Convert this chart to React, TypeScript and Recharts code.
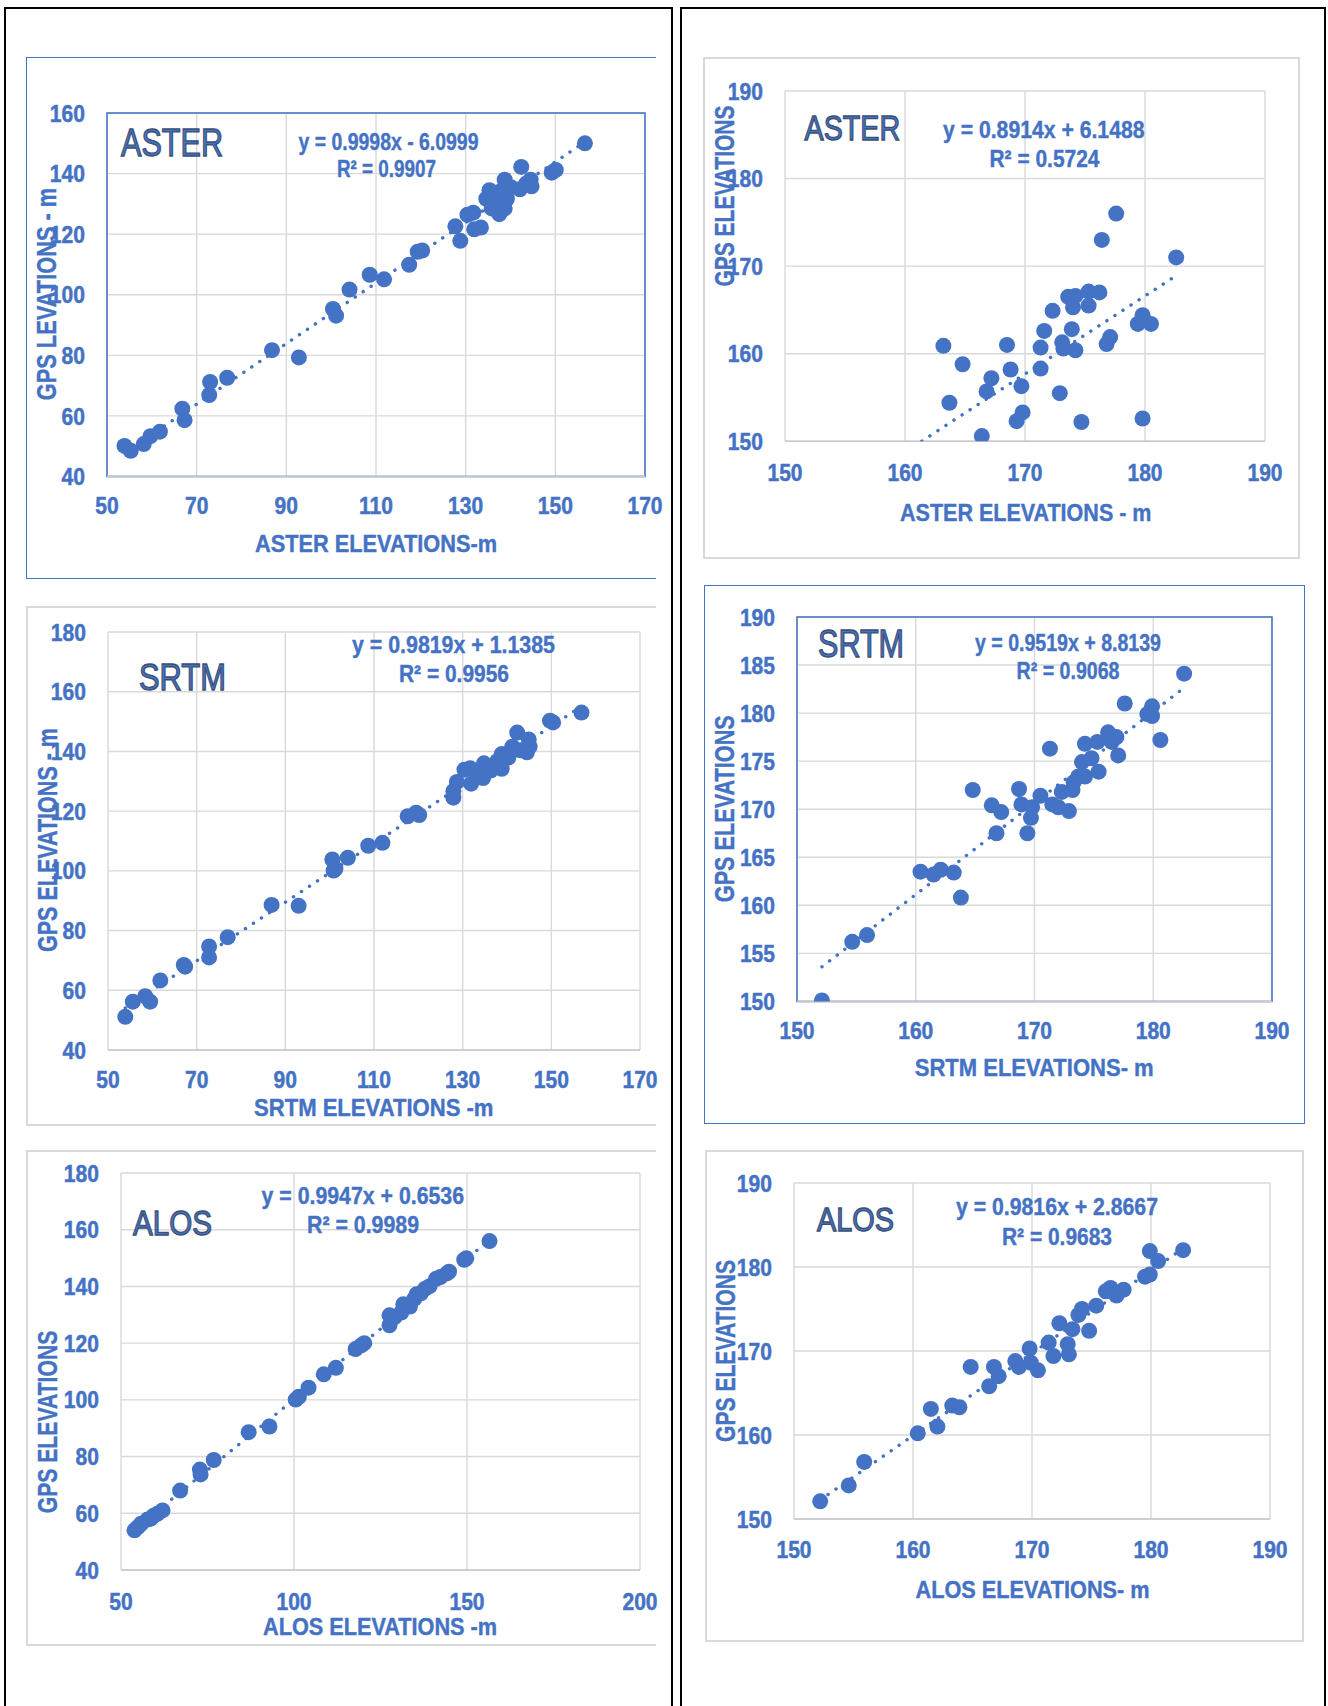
import React from 'react';
import { ScatterChart, Scatter, XAxis, YAxis, CartesianGrid, ReferenceArea } from 'recharts';

const BLUE = '#4472C4';
const GRID = '#d9d9d9';
const FONT = '"Liberation Sans", Arial, Helvetica, sans-serif';

type P = [number, number];

// ---------- data (x = DEM elevation, y = GPS elevation) ----------
const asterLeftPoints: P[] = [
  [53.9, 50.1], [55.3, 48.5], [58.2, 50.7], [59.7, 53.3], [61.8, 54.8], [66.8, 62.4], [67.3, 58.6],
  [72.8, 66.9], [73.0, 71.2], [76.8, 72.6], [86.8, 81.7], [92.8, 79.3], [100.4, 95.3], [101.1, 93.1],
  [104.1, 101.7], [108.6, 106.6], [111.8, 105.1], [117.4, 109.9], [119.3, 114.2], [120.3, 114.6],
  [127.7, 122.6], [128.8, 117.8], [130.4, 126.4], [131.7, 127.1], [131.9, 121.6], [133.4, 122.2],
  [134.6, 131.7], [135.3, 134.5], [135.8, 128.5], [137.5, 126.6], [138.7, 128.5], [136.7, 132.9],
  [138.7, 138.0], [139.2, 131.7], [140.1, 135.5], [142.4, 142.2], [142.1, 134.8], [143.5, 136.7],
  [144.5, 138.0], [144.7, 135.8], [149.2, 140.3], [150.1, 141.2], [156.6, 150.0], [136.3, 130.4],
  [137.8, 134.2],
];
const srtmLeftPoints: P[] = [
  [53.9, 51.1], [55.6, 56.2], [58.4, 58.0], [59.5, 56.2], [61.8, 63.3], [67.1, 68.5], [67.4, 67.9],
  [72.8, 74.7], [72.8, 71.0], [77.0, 77.8], [86.9, 88.6], [93.0, 88.3], [100.6, 103.8], [100.9, 100.1],
  [101.3, 100.7], [104.1, 104.4], [108.7, 108.4], [111.9, 109.4], [117.6, 118.3], [119.5, 119.5],
  [120.2, 118.7], [127.9, 126.7], [127.9, 124.5], [128.7, 129.8], [130.4, 133.9], [131.7, 134.4],
  [131.9, 129.2], [133.8, 132.9], [134.8, 136.0], [134.6, 131.1], [136.3, 133.6], [137.8, 136.7],
  [138.8, 134.2], [138.8, 139.1], [140.3, 137.9], [141.2, 141.6], [142.3, 146.3], [143.0, 140.4],
  [144.5, 139.7], [144.9, 144.0], [145.1, 141.6], [149.7, 150.3], [150.4, 149.7], [156.8, 153.0],
];
const alosLeftPoints: P[] = [
  [53.9, 54.0], [54.8, 55.0], [55.8, 56.3], [57.7, 57.8], [58.6, 58.1], [59.4, 59.1], [60.5, 59.8],
  [62.0, 61.0], [67.1, 68.0], [72.8, 75.4], [73.0, 73.7], [76.8, 78.8], [86.9, 88.6], [92.9, 90.6],
  [100.5, 100.1], [101.4, 101.1], [104.2, 104.3], [108.6, 109.0], [112.1, 111.3], [117.8, 117.9],
  [119.4, 119.2], [120.3, 120.0], [127.6, 126.3], [127.6, 129.8], [129.1, 129.2], [131.0, 130.8],
  [131.6, 133.7], [133.5, 132.9], [134.8, 135.7], [135.4, 137.2], [136.7, 137.6], [137.9, 139.2],
  [139.2, 140.1], [141.1, 142.7], [142.3, 143.3], [144.2, 144.6], [144.8, 145.2], [149.2, 149.4],
  [149.8, 149.9], [156.5, 156.0],
];
const asterRightPoints: P[] = [
  [163.2, 160.9], [163.7, 154.4], [164.8, 158.8], [166.4, 150.6], [166.8, 155.7], [167.2, 157.2],
  [168.5, 161.0], [168.8, 158.2], [169.3, 152.3], [169.7, 156.3], [169.8, 153.3], [171.3, 158.3],
  [171.3, 160.7], [171.6, 162.6], [172.3, 164.9], [172.9, 155.5], [173.1, 161.3], [173.2, 160.6],
  [173.6, 166.5], [174.0, 165.3], [173.9, 162.8], [174.2, 166.6], [174.2, 160.4], [174.7, 152.2],
  [175.3, 167.1], [175.3, 165.5], [176.2, 167.0], [176.4, 173.0], [176.8, 161.1], [177.1, 161.9],
  [177.6, 176.0], [179.4, 163.4], [179.8, 152.6], [179.8, 164.4], [180.5, 163.4], [182.6, 171.0],
];
const srtmRightPoints: P[] = [
  [152.1, 150.1], [154.65, 156.2], [155.9, 156.9], [160.4, 163.5], [161.5, 163.2], [162.1, 163.7],
  [163.2, 163.4], [163.8, 160.8], [164.8, 172.0], [166.4, 170.4], [166.8, 167.5], [167.2, 169.7],
  [168.7, 172.1], [168.9, 170.5], [169.4, 167.5], [169.7, 169.1], [169.8, 170.2], [170.5, 171.4],
  [171.3, 176.3], [171.5, 170.5], [172.0, 170.2], [172.3, 171.8], [172.9, 169.8], [173.2, 172.0],
  [173.3, 172.8], [173.7, 173.4], [174.0, 174.9], [174.25, 173.4], [174.25, 176.8], [174.8, 175.3],
  [175.4, 173.9], [175.3, 177.0], [176.2, 178.0], [176.5, 177.0], [176.9, 177.5], [177.05, 175.6],
  [177.6, 181.0], [179.5, 179.9], [179.9, 180.7], [179.9, 179.7], [180.6, 177.2], [182.6, 184.1],
];
const alosRightPoints: P[] = [
  [152.2, 152.1], [154.6, 154.0], [155.9, 156.8], [160.4, 160.2], [161.5, 163.1], [162.05, 161.0],
  [163.3, 163.5], [163.9, 163.3], [164.85, 168.1], [166.4, 165.8], [166.8, 168.1], [167.2, 167.0],
  [168.6, 168.8], [168.9, 168.1], [169.8, 170.3], [169.9, 168.6], [170.5, 167.7], [171.4, 171.0],
  [171.8, 169.4], [172.3, 173.3], [173.0, 170.8], [173.1, 169.6], [173.4, 172.6], [173.9, 174.3],
  [174.2, 175.0], [174.8, 172.4], [175.4, 175.4], [176.2, 177.1], [176.6, 177.5], [177.1, 176.6],
  [177.7, 177.3], [179.5, 178.85], [179.9, 179.1], [179.9, 181.9], [180.6, 180.7], [182.7, 182.0],
];

// trendline coefficients (from the printed equations) and visible x-extent
const trendAsterLeft = [0.9998, -6.0999];
const trendSrtmLeft = [0.9819, 1.1385];
const trendAlosLeft = [0.9947, 0.6536];
const trendAsterRight = [0.8914, 6.1488];
const trendSrtmRight = [0.9519, 8.8139];
const trendAlosRight = [0.9816, 2.8667];
const trendRangeAsterLeft = [53.9, 156.6];
const trendRangeSrtmLeft = [53.9, 156.8];
const trendRangeAlosLeft = [53.9, 156.5];
const trendRangeAsterRight = [161.4, 182.6];
const trendRangeSrtmRight = [152.1, 182.6];
const trendRangeAlosRight = [152.2, 182.7];

// tick labels
const ticks50to170 = [50, 70, 90, 110, 130, 150, 170];
const ticks50to200 = [50, 100, 150, 200];
const ticks40to160 = [40, 60, 80, 100, 120, 140, 160];
const ticks40to180 = [40, 60, 80, 100, 120, 140, 160, 180];
const ticks150to190 = [150, 160, 170, 180, 190];
const ticks150to190by5 = [150, 155, 160, 165, 170, 175, 180, 185, 190];

// ---------- layout ----------
interface Cfg {
  points: P[];
  trend: number[];
  trendRange: number[];
  xTicks: number[];
  yTicks: number[];
  plot: { l: number; t: number; r: number; b: number };
  plotBorder: boolean;
  xdy: number;
  clipRight: number;
}

const panels: Cfg[] = [
  { points: asterLeftPoints, trend: trendAsterLeft, trendRange: trendRangeAsterLeft, xTicks: ticks50to170, yTicks: ticks40to160,
    plot: { l: 107, t: 113, r: 645, b: 476.5 }, plotBorder: true, xdy: 37, clipRight: 668 },
  { points: srtmLeftPoints, trend: trendSrtmLeft, trendRange: trendRangeSrtmLeft, xTicks: ticks50to170, yTicks: ticks40to180,
    plot: { l: 108, t: 632, r: 640, b: 1050 }, plotBorder: false, xdy: 38, clipRight: 668 },
  { points: alosLeftPoints, trend: trendAlosLeft, trendRange: trendRangeAlosLeft, xTicks: ticks50to200, yTicks: ticks40to180,
    plot: { l: 121, t: 1172.5, r: 640, b: 1569.5 }, plotBorder: false, xdy: 39.5, clipRight: 668 },
  { points: asterRightPoints, trend: trendAsterRight, trendRange: trendRangeAsterRight, xTicks: ticks150to190, yTicks: ticks150to190,
    plot: { l: 785, t: 90.7, r: 1265, b: 441 }, plotBorder: false, xdy: 39.5, clipRight: 1300 },
  { points: srtmRightPoints, trend: trendSrtmRight, trendRange: trendRangeSrtmRight, xTicks: ticks150to190, yTicks: ticks150to190by5,
    plot: { l: 797, t: 616.6, r: 1272, b: 1001 }, plotBorder: true, xdy: 38, clipRight: 1304 },
  { points: alosRightPoints, trend: trendAlosRight, trendRange: trendRangeAlosRight, xTicks: ticks150to190, yTicks: ticks150to190,
    plot: { l: 794, t: 1183, r: 1270, b: 1519 }, plotBorder: false, xdy: 39.3, clipRight: 1304 },
];

const boxes = [
  { left: 26, top: 57, width: 630, height: 522, color: BLUE, bw: 1.5, right: false },
  { left: 26, top: 606, width: 630, height: 520, color: GRID, bw: 2, right: false },
  { left: 26, top: 1150, width: 630, height: 496, color: GRID, bw: 2, right: false },
  { left: 703, top: 57, width: 597, height: 502, color: GRID, bw: 2, right: true },
  { left: 704, top: 585, width: 601, height: 539, color: BLUE, bw: 1.5, right: true },
  { left: 705, top: 1150, width: 599, height: 492, color: GRID, bw: 2, right: true },
];

type Ann = { t: string; x: number; y: number; w: number; size: number; title?: boolean };
type RotAnn = { t: string; cx: number; cy: number; len: number; size: number };

const texts: Ann[] = [
  { t: 'ASTER', x: 121, y: 156, w: 102, size: 39, title: true },
  { t: 'y = 0.9998x - 6.0999', x: 298.5, y: 149.5, w: 180, size: 24 },
  { t: 'R² = 0.9907', x: 337, y: 177, w: 99, size: 24 },
  { t: 'ASTER ELEVATIONS-m', x: 255, y: 551.5, w: 242, size: 24 },

  { t: 'SRTM', x: 139, y: 690, w: 87, size: 36, title: true },
  { t: 'y = 0.9819x + 1.1385', x: 352, y: 653, w: 203, size: 24 },
  { t: 'R² = 0.9956', x: 399, y: 682, w: 110, size: 24 },
  { t: 'SRTM ELEVATIONS -m', x: 254, y: 1115.5, w: 239.5, size: 24 },

  { t: 'ALOS', x: 133, y: 1234.6, w: 79, size: 35, title: true },
  { t: 'y = 0.9947x + 0.6536', x: 261.6, y: 1204, w: 202.4, size: 24 },
  { t: 'R² = 0.9989', x: 307, y: 1233, w: 112, size: 24 },
  { t: 'ALOS ELEVATIONS -m', x: 263, y: 1635, w: 234, size: 24 },

  { t: 'ASTER', x: 804.6, y: 140, w: 95.5, size: 35, title: true },
  { t: 'y = 0.8914x + 6.1488', x: 943, y: 137.6, w: 201.5, size: 24 },
  { t: 'R² = 0.5724', x: 989.5, y: 167, w: 110, size: 24 },
  { t: 'ASTER ELEVATIONS - m', x: 900, y: 520.5, w: 251.5, size: 24 },

  { t: 'SRTM', x: 818, y: 657, w: 86, size: 38, title: true },
  { t: 'y = 0.9519x + 8.8139', x: 975, y: 650.6, w: 186, size: 24 },
  { t: 'R² = 0.9068', x: 1016.5, y: 679, w: 103, size: 24 },
  { t: 'SRTM ELEVATIONS- m', x: 914.7, y: 1076, w: 239, size: 24 },

  { t: 'ALOS', x: 817, y: 1231, w: 77, size: 33, title: true },
  { t: 'y = 0.9816x + 2.8667', x: 956, y: 1215, w: 202, size: 24 },
  { t: 'R² = 0.9683', x: 1002, y: 1244.5, w: 110, size: 24 },
  { t: 'ALOS ELEVATIONS- m', x: 915.5, y: 1598, w: 234, size: 24 },
];

const rotTexts: RotAnn[] = [
  { t: 'GPS LEVATIONS - m', cx: 46, cy: 294, len: 212.5, size: 28 },
  { t: 'GPS ELEVATIONS - m', cx: 47, cy: 840, len: 224, size: 28 },
  { t: 'GPS ELEVATIONS', cx: 47, cy: 1422, len: 182.6, size: 28 },
  { t: 'GPS ELEVATIONS', cx: 723.6, cy: 196, len: 181, size: 28 },
  { t: 'GPS ELEVATIONS', cx: 723.6, cy: 808.7, len: 187, size: 28 },
  { t: 'GPS ELEVATIONS', cx: 725, cy: 1351, len: 182, size: 28 },
];

const TICK_SIZE = 24.5;
const TICK_SX = 0.86;

function makeXTick(dy: number) {
  return (props: any) => {
    const { x, y, payload } = props;
    return (
      <text transform={`translate(${x},${y + dy}) scale(${TICK_SX},1)`} textAnchor="middle" fill={BLUE}
        stroke={BLUE} strokeWidth={0.5} fontFamily={FONT} fontWeight="bold" fontSize={TICK_SIZE}>{payload.value}</text>
    );
  };
}
function makeYTick(gap: number) {
  return (props: any) => {
    const { x, y, payload } = props;
    return (
      <text transform={`translate(${x - gap},${y + 8.6}) scale(${TICK_SX},1)`} textAnchor="end" fill={BLUE}
        stroke={BLUE} strokeWidth={0.5} fontFamily={FONT} fontWeight="bold" fontSize={TICK_SIZE}>{payload.value}</text>
    );
  };
}

const Dot = (p: any) => <circle cx={p.cx} cy={p.cy} r={8} fill={BLUE} />;
const NoDot = () => <g />;

function Panel({ cfg }: { cfg: Cfg }) {
  const { l, t, r, b } = cfg.plot;
  const ML = 100, MT = 20, MB = 60, YW = 80;
  const MR = cfg.clipRight - r;
  const width = r - l + ML + MR;
  const height = b - t + MT + MB;
  const xMin = cfg.xTicks[0], xMax = cfg.xTicks[cfg.xTicks.length - 1];
  const yMin = cfg.yTicks[0], yMax = cfg.yTicks[cfg.yTicks.length - 1];
  const data = cfg.points.map(([x, y]) => ({ x, y }));
  const [m, c] = cfg.trend;
  const trendData = cfg.trendRange.map((x) => ({ x, y: m * x + c }));
  return (
    <div style={{ position: 'absolute', left: l - ML, top: t - MT, width, height, overflow: 'hidden' }}>
      <ScatterChart width={width} height={height} margin={{ top: MT, right: MR, left: ML - YW, bottom: 0 }}>
        <CartesianGrid stroke={GRID} strokeWidth={1.4} />
        <XAxis type="number" dataKey="x" domain={[xMin, xMax]} ticks={cfg.xTicks} interval={0} height={MB}
          tickLine={false} axisLine={{ stroke: '#c8c8c8', strokeWidth: 1.5 }} tickSize={0} tickMargin={0}
          tick={makeXTick(cfg.xdy)} allowDataOverflow />
        <YAxis type="number" dataKey="y" domain={[yMin, yMax]} ticks={cfg.yTicks} interval={0} width={YW}
          tickLine={false} axisLine={false} tickSize={0} tickMargin={0} tick={makeYTick(22)} allowDataOverflow />
        {cfg.plotBorder && (
          <ReferenceArea x1={xMin} x2={xMax} y1={yMin} y2={yMax} fill="none" fillOpacity={0}
            stroke={BLUE} strokeWidth={1.5} ifOverflow="visible" />
        )}
        <Scatter data={trendData} isAnimationActive={false} shape={NoDot}
          line={{ stroke: BLUE, strokeWidth: 3.4, strokeDasharray: '0.1 9.5', strokeLinecap: 'round' }} />
        <Scatter data={data} isAnimationActive={false} shape={Dot} fill={BLUE} />
      </ScatterChart>
    </div>
  );
}

export default function App() {
  return (
    <div style={{ position: 'absolute', left: 0, top: 0, width: 1328, height: 1706, background: '#fff', overflow: 'hidden' }}>
      {boxes.map((bx, i) => (
        <div key={i} style={{ position: 'absolute', left: bx.left, top: bx.top, width: bx.width, height: bx.height,
          boxSizing: 'border-box', borderLeft: `${bx.bw}px solid ${bx.color}`, borderTop: `${bx.bw}px solid ${bx.color}`,
          borderBottom: `${bx.bw}px solid ${bx.color}`, borderRight: bx.right ? `${bx.bw}px solid ${bx.color}` : 'none' }} />
      ))}
      {panels.map((cfg, i) => <Panel key={i} cfg={cfg} />)}
      {/* column frames */}
      <div style={{ position: 'absolute', left: 4, top: 7, width: 669, height: 1720, boxSizing: 'border-box',
        borderLeft: '2.5px solid #000', borderTop: '2.5px solid #000', borderRight: '2.5px solid #000' }} />
      <div style={{ position: 'absolute', left: 680, top: 7, width: 646, height: 1720, boxSizing: 'border-box',
        borderLeft: '2.5px solid #000', borderTop: '2.5px solid #000', borderRight: '2.5px solid #000' }} />
      <svg width={1328} height={1706} style={{ position: 'absolute', left: 0, top: 0, pointerEvents: 'none' }}>
        {texts.map((a, i) => (
          <text key={i} x={a.x} y={a.y} textLength={a.w} lengthAdjust="spacingAndGlyphs" fontFamily={FONT}
            fontSize={a.size} fontWeight={a.title ? 'normal' : 'bold'} fill={BLUE}
            stroke={a.title ? '#3b4f72' : BLUE} strokeWidth={a.title ? 1.3 : 0.4}>{a.t}</text>
        ))}
        {rotTexts.map((a, i) => (
          <text key={'r' + i} transform={`translate(${a.cx + a.size * 0.36},${a.cy}) rotate(-90)`} x={0} y={0}
            textAnchor="middle" textLength={a.len} lengthAdjust="spacingAndGlyphs" fontFamily={FONT}
            fontSize={a.size} fontWeight="bold" fill={BLUE} stroke={BLUE} strokeWidth={0.4}>{a.t}</text>
        ))}
      </svg>
    </div>
  );
}
